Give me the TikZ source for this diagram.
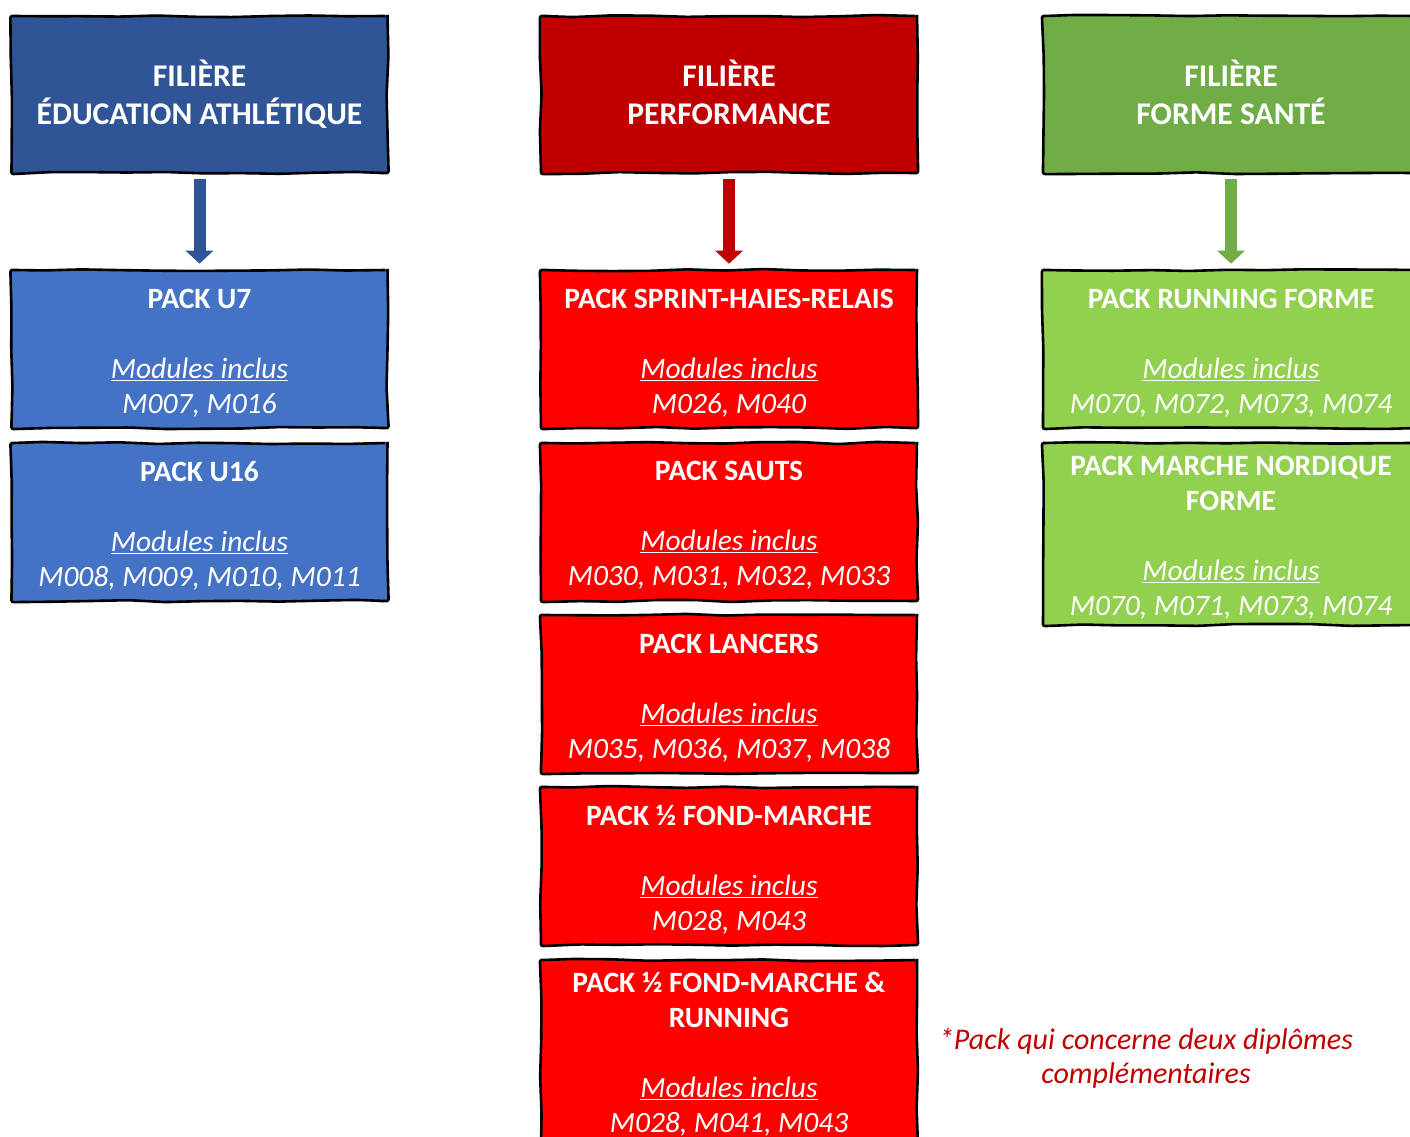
\documentclass[tikz,border=0pt]{standalone}
\usepackage{fontspec}
\setmainfont{Carlito}
\usetikzlibrary{arrows.meta,decorations.pathmorphing}
\definecolor{hblue}{HTML}{2F5597}
\definecolor{pblue}{HTML}{4472C4}
\definecolor{hred}{HTML}{C00000}
\definecolor{pred}{HTML}{FF0000}
\definecolor{hgreen}{HTML}{70AD47}
\definecolor{pgreen}{HTML}{92D050}
\definecolor{notered}{HTML}{C00000}
\tikzset{
  sketch/.style={draw=black, line width=2.6pt, decorate,
    decoration={random steps, segment length=38pt, amplitude=1.1pt}, rounded corners=2pt},
  header/.style={sketch, minimum width=376pt, minimum height=157pt, inner sep=0pt,
    text=white, align=center, font=\fontsize{31.6}{38}\selectfont\bfseries},
  packbox/.style={sketch, minimum width=376pt, minimum height=158pt, inner sep=0pt},
  packtext/.style={inner sep=0pt, text=white, align=center, font=\fontsize{29.5}{35}\selectfont},
  flow/.style={line width=12pt, -{Triangle[width=27pt,length=13pt]},
    shorten <=5pt, shorten >=5pt},
}
\newcommand{\mods}[1]{\textit{\underline{Modules inclus}}\\\textit{#1}}
\begin{document}
\begin{tikzpicture}[x=1pt,y=-1pt]
\pgfmathsetseed{7}
\useasboundingbox (0,0) rectangle (1410,1137);
\clip (0,0) rectangle (1410,1137);
% headers
\node[header, fill=hblue] (h1) at (199.5,94.5) {FILIÈRE\\ÉDUCATION ATHLÉTIQUE};
\node[header, fill=hred] (h2) at (729,94.5) {FILIÈRE\\PERFORMANCE\vphantom{ÉQ}};
\node[header, fill=hgreen] (h3) at (1231,94.5) {FILIÈRE\\FORME SANTÉ\vphantom{ÉQ}};
% blue packs
\node[packbox, fill=pblue] (b1) at (199.5,349) {};
\node[packtext] (b1t) at (199.5,353.5) {\textbf{PACK U7}\\[35pt]\mods{M007, M016}};
\node[packbox, fill=pblue] (b2) at (199.5,522) {};
\node[packtext] (b2t) at (199.5,525.5) {\textbf{PACK U16}\\[35pt]\mods{M008, M009, M010, M011}};
% red packs
\node[packbox, fill=pred] (r1) at (729,349) {};
\node[packtext] (r1t) at (729,353.5) {\textbf{PACK SPRINT-HAIES-RELAIS}\\[35pt]\mods{M026, M040}};
\node[packbox, fill=pred] (r2) at (729,522) {};
\node[packtext] (r2t) at (729,525.5) {\textbf{PACK SAUTS}\\[35pt]\mods{M030, M031, M032, M033}};
\node[packbox, fill=pred] (r3) at (729,694) {};
\node[packtext] (r3t) at (729,698) {\textbf{PACK LANCERS}\\[35pt]\mods{M035, M036, M037, M038}};
\node[packbox, fill=pred] (r4) at (729,866) {};
\node[packtext] (r4t) at (729,870) {\textbf{PACK ½ FOND-MARCHE}\\[35pt]\mods{M028, M043}};
\node[packbox, fill=pred, minimum height=188pt] (r5) at (729,1054) {};
\node[packtext] (r5t) at (729,1054) {\textbf{PACK ½ FOND-MARCHE \&}\\\textbf{RUNNING}\\[35pt]\mods{M028, M041, M043}};
% green packs
\node[packbox, fill=pgreen] (g1) at (1231,349) {};
\node[packtext] (g1t) at (1231,353.5) {\textbf{PACK RUNNING FORME}\\[35pt]\mods{M070, M072, M073, M074}};
\node[packbox, fill=pgreen, minimum height=182pt] (g2) at (1231,534) {};
\node[packtext] (g2t) at (1231,537.5) {\textbf{PACK MARCHE NORDIQUE}\\\textbf{FORME}\\[35pt]\mods{M070, M071, M073, M074}};
% arrows
\draw[flow, hblue] (h1) -- (b1);
\draw[flow, hred] (h2) -- (r1);
\draw[flow, hgreen] (h3) -- (g1);
% note
\node[text=notered, align=center, font=\fontsize{30}{34}\selectfont\itshape] (note) at (1146,1058) {*Pack qui concerne deux diplômes\\complémentaires};
\end{tikzpicture}
\end{document}
